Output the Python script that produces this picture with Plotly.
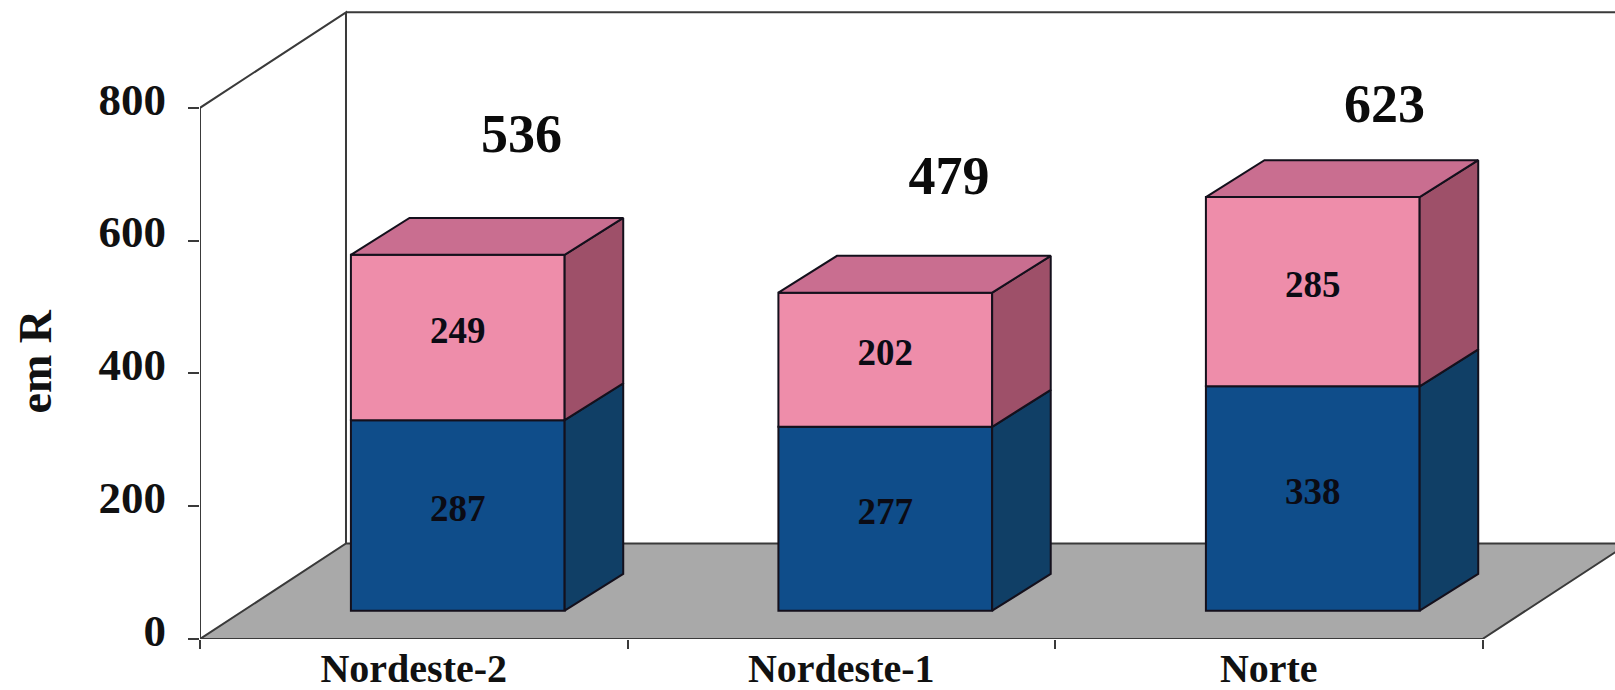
import plotly.graph_objects as go

# ---- data ----
categories = ["Nordeste-2", "Nordeste-1", "Norte"]
lower_values = [287, 277, 338]
upper_values = [249, 202, 285]
total_values = [536, 479, 623]
y_ticks = [0, 200, 400, 600, 800]

# ---- oblique projection, in axis units ----
WALL_DX, WALL_DY = 0.3415, 143.8      # floor depth
FRONT_DX, FRONT_DY = 0.103, 42.6      # bar front plane from the axis plane
BAR_DX, BAR_DY = 0.137, 55.5          # bar depth
BAR_W = 0.5
LABEL_RAISE = 6
TOTAL_X = [0.752, 1.752, 2.771]
TOTAL_Y = [754.5, 690, 799.6]

INK = "#14101c"
WALL = "#3a3a3a"
PINK, PINK_TOP, PINK_SIDE = "#EE8DAA", "#C96E90", "#9E5069"
BLUE, BLUE_SIDE = "#0F4D8A", "#103F66"
SERIF = "Liberation Serif"

fig = go.Figure()
centers = [i + 0.5 + FRONT_DX for i in range(len(categories))]
bases_low = [FRONT_DY] * len(categories)
bases_up = [b + v for b, v in zip(bases_low, lower_values)]


def face(xs, ys, color):
    fig.add_trace(go.Scatter(x=xs, y=ys, mode="lines", fill="toself", fillcolor=color,
                             line=dict(color=INK, width=2), showlegend=False, hoverinfo="skip"))


# front faces
for vals, bases, color in ((lower_values, bases_low, BLUE), (upper_values, bases_up, PINK)):
    fig.add_trace(go.Bar(x=centers, y=vals, base=bases, width=BAR_W,
                         marker=dict(color=color, line=dict(color=INK, width=2)),
                         showlegend=False, hoverinfo="skip"))

# side and top faces
for c, bl, bu, lo, up in zip(centers, bases_low, bases_up, lower_values, upper_values):
    r = c + BAR_W / 2
    l = c - BAR_W / 2
    face([r, r + BAR_DX, r + BAR_DX, r, r], [bl, bl + BAR_DY, bu + BAR_DY, bu, bl], BLUE_SIDE)
    t = bu + up
    face([r, r + BAR_DX, r + BAR_DX, r, r], [bu, bu + BAR_DY, t + BAR_DY, t, bu], PINK_SIDE)
    face([l, r, r + BAR_DX, l + BAR_DX, l], [t, t, t + BAR_DY, t + BAR_DY, t], PINK_TOP)

# value labels
fig.add_trace(go.Scatter(
    x=centers * 2,
    y=[b + v / 2 + LABEL_RAISE for b, v in zip(bases_low + bases_up, lower_values + upper_values)],
    text=[str(v) for v in lower_values + upper_values],
    mode="text", textposition="middle center",
    textfont=dict(family=SERIF, size=37, color="#0b0b14", weight="bold"),
    showlegend=False, hoverinfo="skip"))
fig.add_trace(go.Scatter(
    x=TOTAL_X, y=TOTAL_Y, text=[str(v) for v in total_values],
    mode="text", textposition="middle center",
    textfont=dict(family=SERIF, size=54, color="#0b0b0b", weight="bold"),
    showlegend=False, hoverinfo="skip"))

# axis lines, not clipped at the edge of the plot
ncat = len(categories)
fig.add_trace(go.Scatter(x=[0, 0, ncat], y=[y_ticks[-1], 0, 0], mode="lines", cliponaxis=False,
                         line=dict(color=WALL, width=2), showlegend=False, hoverinfo="skip"))

shapes = [
    dict(type="path", layer="below", xref="x", yref="y",
         path=f"M 0 0 L {ncat} 0 L {ncat + WALL_DX} {WALL_DY} L {WALL_DX} {WALL_DY} Z",
         fillcolor="#A9A9A9", line=dict(color=WALL, width=2)),
    dict(type="path", layer="below", xref="x", yref="y",
         path=(f"M 0 {y_ticks[-1]} L {WALL_DX} {y_ticks[-1] + WALL_DY} "
               f"L {WALL_DX} {WALL_DY} M {WALL_DX} {y_ticks[-1] + WALL_DY} "
               f"L {ncat + WALL_DX} {y_ticks[-1] + WALL_DY}"),
         line=dict(color=WALL, width=2)),
]

annotations = [dict(text="em R", textangle=-90, xref="paper", yref="paper",
                    x=-0.135, y=(639 - 361) / 639,
                    showarrow=False, font=dict(family=SERIF, size=46, color="#111", weight="bold"))]

fig.update_layout(
    width=1615, height=690,
    margin=dict(l=200, r=0, t=0, b=51, autoexpand=False),
    paper_bgcolor="white", plot_bgcolor="white",
    barmode="overlay",
    showlegend=False,
    shapes=shapes,
    annotations=annotations,
    xaxis=dict(range=[0, 1415 / 427.5], showgrid=False, zeroline=False, showline=False,
               tickmode="array", tickvals=[i + 0.5 for i in range(ncat)], ticktext=categories,
               ticks="", ticklabelstandoff=2,
               tickfont=dict(family=SERIF, size=40, color="#111", weight="bold"),
               minor=dict(tickmode="array", tickvals=list(range(ncat + 1)), ticks="outside",
                          ticklen=9, tickwidth=2, tickcolor=WALL, showgrid=False)),
    yaxis=dict(range=[0, 639 / 0.664], showgrid=False, zeroline=False, showline=False,
               tickmode="array", tickvals=y_ticks, ticktext=[str(v) for v in y_ticks],
               ticks="outside", ticklen=11, tickwidth=2, tickcolor=WALL,
               ticklabelstandoff=13, ticklabelshift=-9,
               tickfont=dict(family=SERIF, size=45, color="#111", weight="bold")),
)

fig.write_html("out.html", config={"displayModeBar": False},
               post_script="document.body.style.margin='0';")
